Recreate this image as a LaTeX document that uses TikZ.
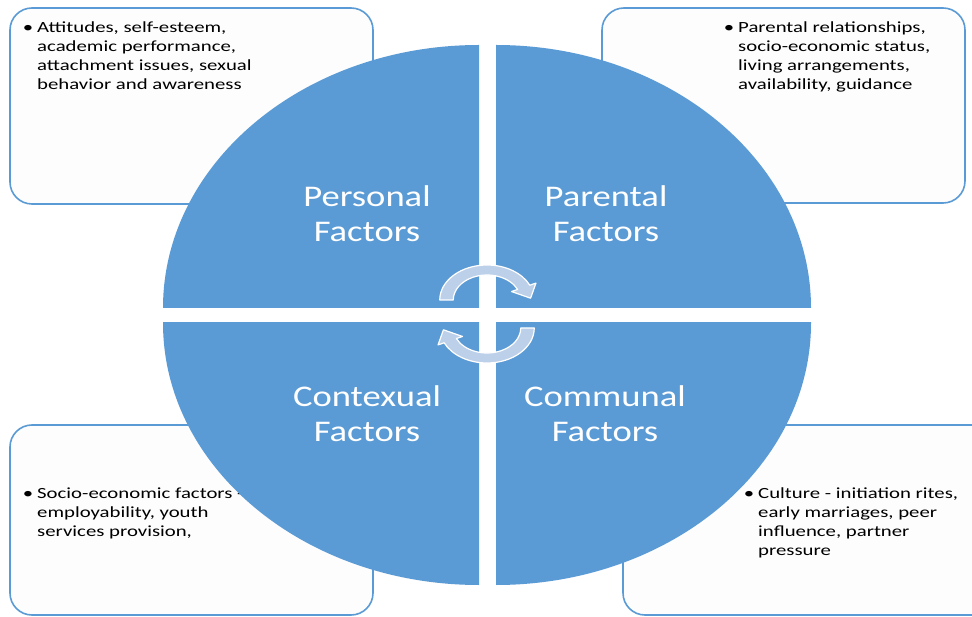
\documentclass[tikz,border=0pt]{standalone}
\usepackage{fontspec}
\setmainfont{Carlito}
\newfontfamily\boxfont{Carlito}[FakeStretch=1.34]
\newfontfamily\labfont{Carlito}[FakeStretch=1.22]
\definecolor{qblue}{HTML}{5B9BD5}
\definecolor{bline}{HTML}{5B9BD5}
\definecolor{bfill}{HTML}{FDFDFD}
\definecolor{afill}{HTML}{BCD0EA}
\tikzset{
  infobox/.style={draw=bline, line width=1.6pt, fill=bfill, rounded corners=22pt},
  quadrant/.style={fill=qblue},
  quadlabel/.style={text=white, align=center, inner sep=0pt,
    font=\labfont\fontsize{30}{35}\selectfont},
  boxtext/.style={align=left, inner sep=0pt, anchor=north west, text=black,
    font=\boxfont\fontsize{15.5}{19}\selectfont},
  cyclearrow/.style={fill=afill, draw=white, line width=1.2pt, line join=round}
}
\newcommand{\bul}{\llap{\textbullet\hspace{4pt}}}
\begin{document}
\begin{tikzpicture}[x=1pt, y=-1pt]
\useasboundingbox (0,0) rectangle (972,617);
\clip (0,0) rectangle (972,617);
\fill[white] (0,0) rectangle (972,617);
% info boxes
\draw[infobox] (10,8) rectangle (373,204);
\draw[infobox] (602,8) rectangle (965,203);
\draw[infobox] (10,425) rectangle (373,615);
\draw[infobox] (623,425) rectangle (1000,615);
\node[boxtext] (tl) at (37,22) {\bul Attitudes, self-esteem,\\academic performance,\\attachment issues, sexual\\behavior and awareness};
\node[boxtext] (tr) at (738,22) {\bul Parental relationships,\\socio-economic status,\\living arrangements,\\availability, guidance};
\node[boxtext] (bl) at (37,488) {\bul Socio-economic factors -\\employability, youth\\services provision,};
\node[boxtext] (br) at (758,488) {\bul Culture - initiation rites,\\early marriages, peer\\influence, partner\\pressure};
% quadrants
\begin{scope}
  \clip (0,0) rectangle (479,308);
  \fill[quadrant] (479,308) ellipse [x radius=316, y radius=263];
\end{scope}
\begin{scope}
  \clip (496,0) rectangle (972,308);
  \fill[quadrant] (496,308) ellipse [x radius=315, y radius=263];
\end{scope}
\begin{scope}
  \clip (0,323) rectangle (479,617);
  \fill[quadrant] (479,323) ellipse [x radius=316, y radius=262];
\end{scope}
\begin{scope}
  \clip (496,323) rectangle (972,617);
  \fill[quadrant] (496,323) ellipse [x radius=315, y radius=262];
\end{scope}
% labels
\node[quadlabel] (personal) at (367,214) {Personal\\Factors};
\node[quadlabel] (parental) at (606,214) {Parental\\Factors};
\node[quadlabel] (contexual) at (367,414) {Contexual\\Factors};
\node[quadlabel] (communal) at (605,414) {Communal\\Factors};
% cycle arrows
\begin{scope}[shift={(487,300)}, xscale=1.35, yscale=-1]
  \draw[cyclearrow] (180:25) -- (180:35) arc[start angle=180, end angle=25, radius=35]
    -- (25:40) -- (32.3,1.8) -- (25:20) -- (25:25)
    arc[start angle=25, end angle=180, radius=25] -- cycle;
\end{scope}
\begin{scope}[shift={(487,328)}, xscale=1.35, yscale=-1, rotate=180]
  \draw[cyclearrow] (180:25) -- (180:35) arc[start angle=180, end angle=25, radius=35]
    -- (25:40) -- (32.3,1.8) -- (25:20) -- (25:25)
    arc[start angle=25, end angle=180, radius=25] -- cycle;
\end{scope}
\end{tikzpicture}
\end{document}
